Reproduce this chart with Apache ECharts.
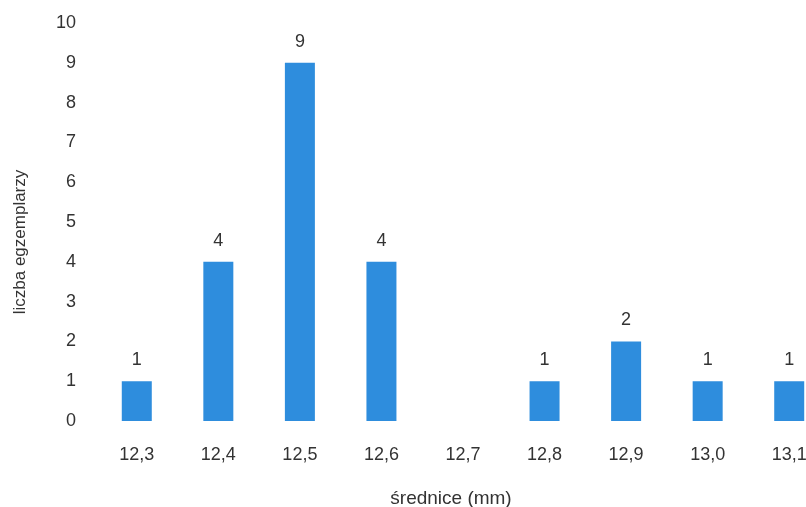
<!DOCTYPE html>
<html>
<head>
<meta charset="utf-8">
<script src="https://cdn.jsdelivr.net/npm/echarts@6/dist/echarts.min.js"></script>
<style>
  html, body { margin: 0; padding: 0; background: #fff; }
  #main { width: 806px; height: 507px; }
</style>
</head>
<body>
<div id="main"></div>
<script>
// średnice i liczba egzemplarzy
let categories = ["12,3", "12,4", "12,5", "12,6", "12,7", "12,8", "12,9", "13,0", "13,1"];
let counts = [1, 4, 9, 4, 0, 1, 2, 1, 1];
let yTicks = [0, 10, 1]; // min, max, interval

let dom = document.getElementById("main");
let myChart = echarts.init(dom, null, { renderer: "canvas" });

let txt = { color: "#333", fontFamily: "Arial, 'Liberation Sans', sans-serif", fontSize: 18 };

let option = {
    animation: false,
    grid: { left: 96, right: -24, top: 23, bottom: 86, outerBoundsMode: "none" },
    xAxis: {
        type: "category",
        data: categories,
        name: "średnice (mm)",
        nameLocation: "middle",
        nameGap: 68,
        nameTextStyle: Object.assign({}, txt, { fontSize: 19, padding: [0, 24, 0, 0] }),
        axisLine: { show: false },
        axisTick: { show: false },
        axisLabel: Object.assign({ margin: 25 }, txt),
    },
    yAxis: {
        type: "value",
        min: yTicks[0],
        max: yTicks[1],
        interval: yTicks[2],
        name: "liczba egzemplarzy",
        nameLocation: "middle",
        nameGap: 67,
        nameTextStyle: Object.assign({}, txt, { fontSize: 17, padding: [0, 40, 0, 0] }),
        axisLine: { show: false },
        axisTick: { show: false },
        splitLine: { show: false },
        axisLabel: Object.assign({ margin: 20 }, txt),
    },
    series: [{
        type: "bar",
        data: counts,
        barWidth: 30,
        itemStyle: { color: "#2e8ddd" },
        label: {
            show: true,
            position: "top",
            distance: 12,
            color: "#333",
            fontFamily: "Arial, 'Liberation Sans', sans-serif",
            fontSize: 18,
            formatter: function (p) { return p.value > 0 ? p.value : ""; },
        },
    }],
};

myChart.setOption(option);
window.addEventListener("resize", myChart.resize);
</script>
</body>
</html>
